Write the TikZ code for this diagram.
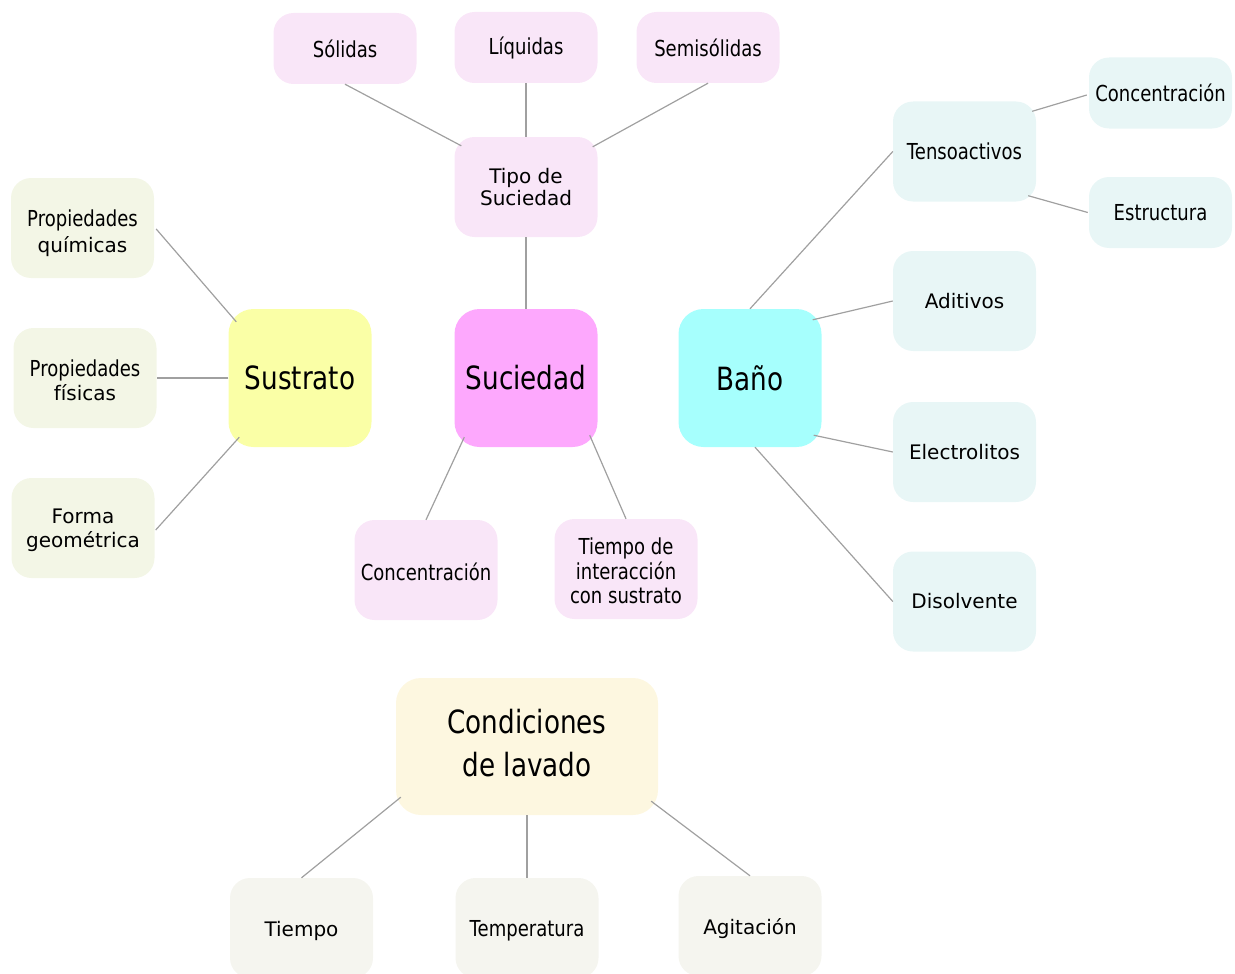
\documentclass[tikz,border=0pt]{standalone}
\usepackage{fontspec}
\setmainfont{DejaVu Sans}
\newfontfamily\condf[FakeStretch=0.82]{DejaVu Sans}
\usetikzlibrary{calc}
\newcommand\cs{\condf\fontsize{22}{24.5}\selectfont}
\newcommand\cb{\condf\fontsize{32}{43}\selectfont}
\newcommand\rs{\fontsize{20}{23}\selectfont}
\definecolor{pinkL}{HTML}{F9E6F8}
\definecolor{pinkM}{HTML}{FDA8FD}
\definecolor{yelM}{HTML}{FAFFA6}
\definecolor{cyanM}{HTML}{A6FFFD}
\definecolor{oliveL}{HTML}{F3F6E6}
\definecolor{cyanL}{HTML}{E8F6F6}
\definecolor{creamM}{HTML}{FDF7E0}
\definecolor{greyL}{HTML}{F5F5EF}
\definecolor{linegray}{HTML}{A0A0A0}
\tikzset{
  box/.style={rounded corners=20pt, minimum width=143pt, minimum height=100pt,
    inner sep=0pt, align=center, text=black, font=\rs},
  small/.style={box, minimum height=71pt},
  big/.style={box, rounded corners=25pt, minimum height=138pt, font=\cb},
  lab/.style={align=center, text=black, inner sep=0pt},
  link/.style={draw=linegray, line width=1.2pt},
}
\begin{document}
\begin{tikzpicture}[x=1pt,y=-1pt]
\useasboundingbox (0,0) rectangle (1235,974);
\clip (0,0) rectangle (1235,974);
% top
\node[small, fill=pinkL, font=\cs] (sol) at (345,48.5) {Sólidas};
\node[small, fill=pinkL, font=\cs] (liq) at (526,47.5) {Líquidas};
\node[small, fill=pinkL, font=\cs] (semi) at (708,47.5) {Semisólidas};
\node[box, fill=pinkL, font={\fontsize{20}{22.5}\selectfont}] (tipo) at (526,187) {Tipo de\\Suciedad};
% centre row
\node[big, fill=pinkM] (suc) at (526,378) {Suciedad};
\node[big, fill=yelM] (sus) at (300,378) {Sustrato};
\node[big, fill=cyanM] (bano) at (750,378) {Baño};
% left
\node[box, fill=oliveL, label={[lab, font={\fontsize{20}{25.5}\selectfont}, yshift=-5pt]center:{\cs Propiedades}\\químicas}] (pq) at (82.5,228) {};
\node[box, fill=oliveL, label={[lab, font={\fontsize{20}{24}\selectfont}, yshift=-2.5pt]center:{\cs Propiedades}\\físicas}] (pf) at (85,378) {};
\node[box, fill=oliveL, label={[lab, font={\fontsize{20}{24}\selectfont}, yshift=-2.5pt]center:Forma\\geométrica}] (fg) at (83,528) {};
% below suciedad
\node[box, fill=pinkL, label={[lab, font=\cs, yshift=-1.5pt]center:Concentración}] (conc) at (426,570) {};
\node[box, fill=pinkL, label={[lab, font=\cs, yshift=-2pt]center:Tiempo de\\interacción\\con sustrato}] (tint) at (626,569) {};
% right
\node[box, fill=cyanL, font=\cs] (tens) at (964.5,151.5) {Tensoactivos};
\node[small, fill=cyanL, font=\cs] (conc2) at (1160.5,93) {Concentración};
\node[small, fill=cyanL, font=\cs] (estr) at (1160.5,212.5) {Estructura};
\node[box, fill=cyanL] (adit) at (964.5,301) {Aditivos};
\node[box, fill=cyanL] (elec) at (964.5,452) {Electrolitos};
\node[box, fill=cyanL] (dis) at (964.5,601.5) {Disolvente};
% bottom
\node[big, fill=creamM, minimum width=262pt, minimum height=137pt, label={[lab, font=\cb, yshift=3pt]center:Condiciones\\de lavado}] (cond) at (527,746.5) {};
\node[box, fill=greyL, label={[lab, font=\rs, yshift=-3pt]center:Tiempo}] (tiem) at (301.5,928) {};
\node[box, fill=greyL, label={[lab, font=\cs, yshift=-3pt]center:Temperatura}] (temp) at (527,928) {};
\node[box, fill=greyL, label={[lab, font=\rs, yshift=-3pt]center:Agitación}] (agit) at (750,926) {};
% connectors
\draw[link] (sol.south) -- ($(tipo.north west)+(7,9)$);
\draw[link] (liq.south) -- (tipo.north);
\draw[link] (semi.south) -- ($(tipo.north east)+(-5,10)$);
\draw[link] (tipo.south) -- (suc.north);
\draw[link] ($(suc.south west)+(10,-10)$) -- (conc.north);
\draw[link] ($(suc.south east)+(-8,-12)$) -- (tint.north);
\draw[link] ($(sus.north west)+(8,13)$) -- ($(pq.east)+(2,1)$);
\draw[link] (sus.west) -- (pf.east);
\draw[link] ($(sus.south west)+(11,-10)$) -- ($(fg.east)+(1,2)$);
\draw[link] (bano.north) -- (tens.west);
\draw[link] ($(bano.north east)+(-9,11)$) -- (adit.west);
\draw[link] ($(bano.south east)+(-8,-12)$) -- (elec.west);
\draw[link] ($(bano.south)+(5,0)$) -- (dis.west);
\draw[link] ($(tens.north east)+(-4,10)$) -- ($(conc2.west)+(-2,2)$);
\draw[link] ($(tens.south east)+(-8,-6)$) -- ($(estr.west)+(-1,0)$);
\draw[link] ($(cond.south west)+(5,-18)$) -- (tiem.north);
\draw[link] (cond.south) -- (temp.north);
\draw[link] ($(cond.south east)+(-7,-14)$) -- (agit.north);
\end{tikzpicture}
\end{document}
